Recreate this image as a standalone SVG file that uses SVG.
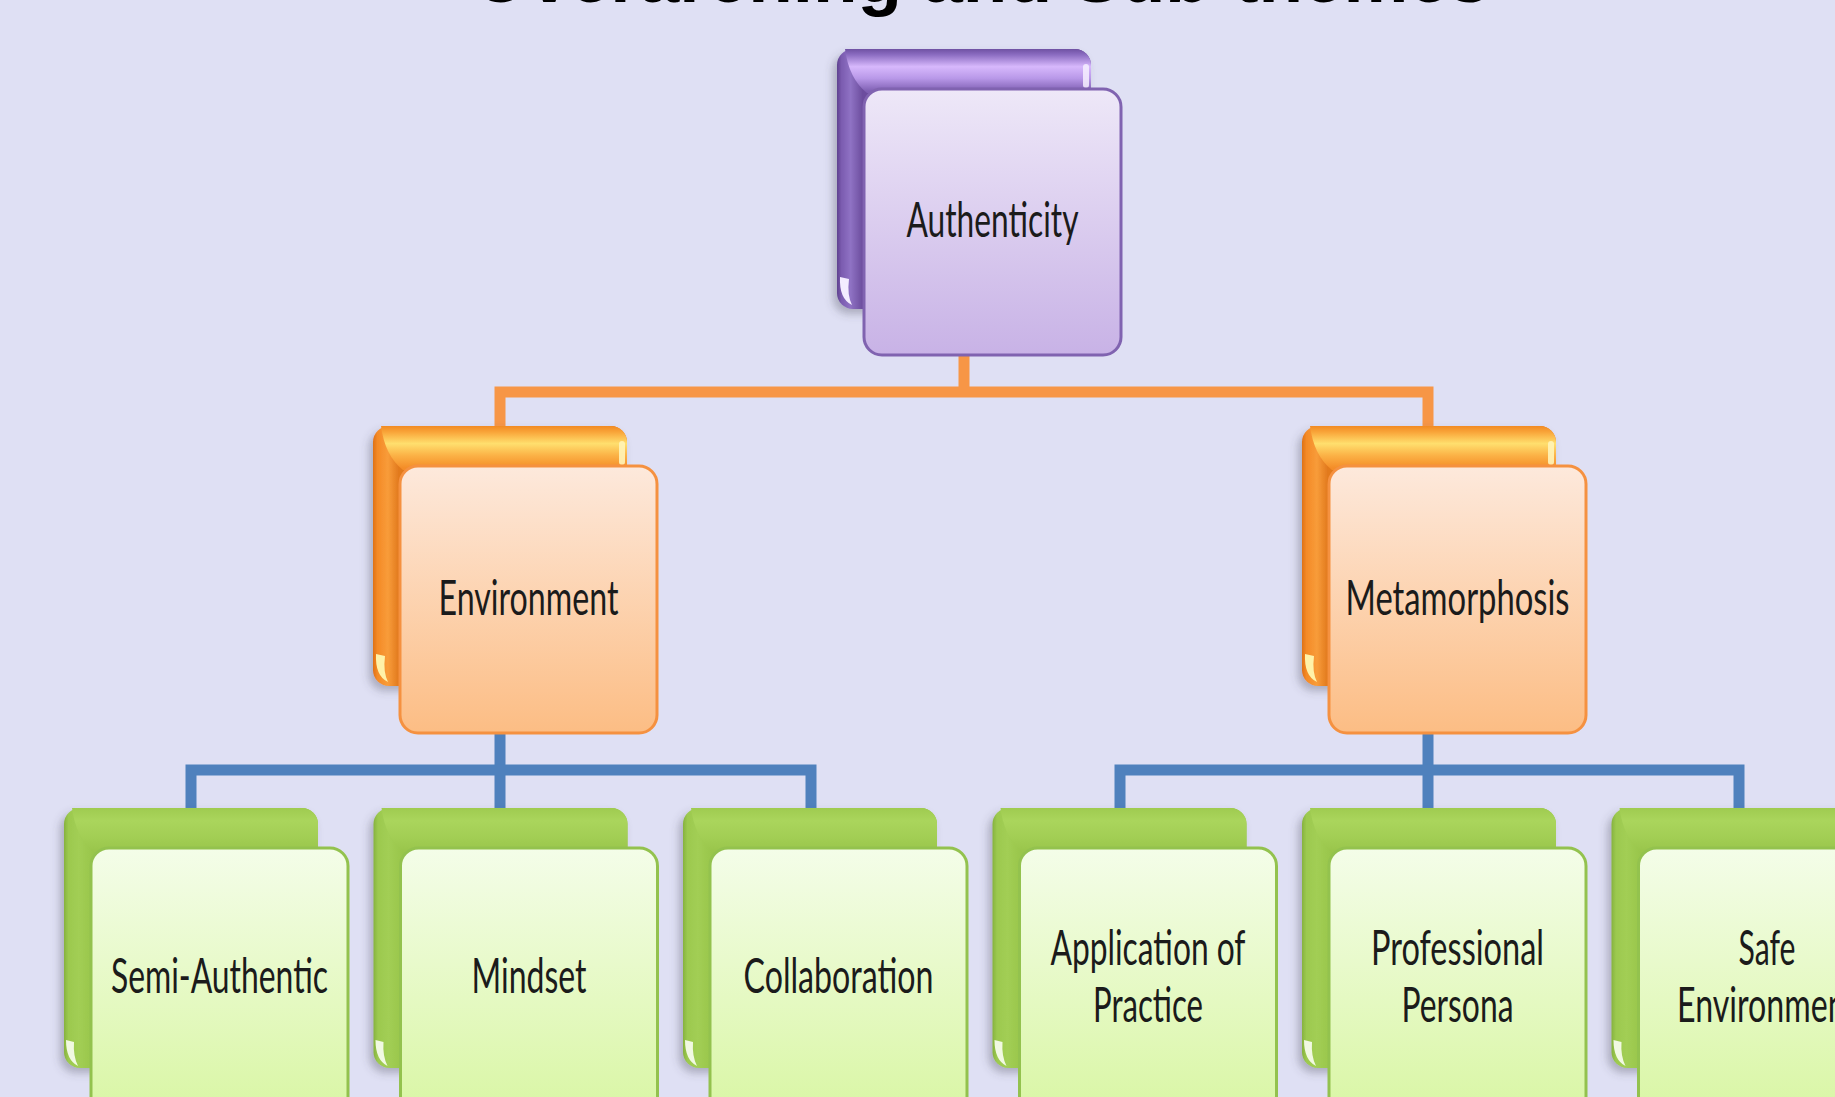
<svg xmlns="http://www.w3.org/2000/svg" xmlns:xlink="http://www.w3.org/1999/xlink" width="1835" height="1097" viewBox="0 0 1835 1097">
  <style>
    .title { font-family: "Liberation Sans", Arial, sans-serif; font-weight: bold; font-size: 73px; fill: #000; text-anchor: middle; }
    .label { font-family: "Lato", "Liberation Sans", sans-serif; font-size: 48px; fill: #1b1b1b; text-anchor: middle; }
    .front { stroke-width: 3; }
    .fp { fill: url(#pFront); stroke: #8063b0; }
    .fo { fill: url(#oFront); stroke: #f59140; }
    .fg { fill: url(#gFront); stroke: #93c24e; }
    .conn { fill: none; stroke-width: 11; stroke-linejoin: miter; stroke-linecap: butt; }
    .c-orange { stroke: #f79646; }
    .c-blue { stroke: #4f81bd; }
  </style>
  <defs>
    <filter id="shadow" x="-20%" y="-20%" width="140%" height="140%">
      <feDropShadow dx="-4" dy="5" stdDeviation="4" flood-color="#4a4a5a" flood-opacity="0.35"/>
    </filter>
    <!-- purple -->
    <linearGradient id="pSide" gradientUnits="userSpaceOnUse" x1="0" y1="0" x2="30" y2="0">
      <stop offset="0" stop-color="#5f4290"/>
      <stop offset="0.15" stop-color="#7b5cb0"/>
      <stop offset="0.45" stop-color="#8f72c4"/>
      <stop offset="0.85" stop-color="#6c4e9e"/>
      <stop offset="1" stop-color="#6c4e9e"/>
    </linearGradient>
    <linearGradient id="pBand" gradientUnits="userSpaceOnUse" x1="0" y1="0" x2="0" y2="42">
      <stop offset="0" stop-color="#6f51a3"/>
      <stop offset="0.14" stop-color="#8c6dc2"/>
      <stop offset="0.42" stop-color="#d7b8fc"/>
      <stop offset="0.7" stop-color="#b898e8"/>
      <stop offset="1" stop-color="#7f60b3"/>
    </linearGradient>
    <linearGradient id="pFront" gradientUnits="userSpaceOnUse" x1="0" y1="40" x2="0" y2="307">
      <stop offset="0" stop-color="#eee8f8"/>
      <stop offset="1" stop-color="#c8b2e6"/>
    </linearGradient>
    <!-- orange -->
    <linearGradient id="oSide" gradientUnits="userSpaceOnUse" x1="0" y1="0" x2="30" y2="0">
      <stop offset="0" stop-color="#de7116"/>
      <stop offset="0.15" stop-color="#f48a26"/>
      <stop offset="0.5" stop-color="#f89c3a"/>
      <stop offset="0.85" stop-color="#e27a1e"/>
      <stop offset="1" stop-color="#e27a1e"/>
    </linearGradient>
    <linearGradient id="oBand" gradientUnits="userSpaceOnUse" x1="0" y1="0" x2="0" y2="42">
      <stop offset="0" stop-color="#f28a22"/>
      <stop offset="0.15" stop-color="#f9a63a"/>
      <stop offset="0.42" stop-color="#ffdf6e"/>
      <stop offset="0.7" stop-color="#fbb246"/>
      <stop offset="1" stop-color="#f48d28"/>
    </linearGradient>
    <linearGradient id="oFront" gradientUnits="userSpaceOnUse" x1="0" y1="40" x2="0" y2="307">
      <stop offset="0" stop-color="#fde9dc"/>
      <stop offset="1" stop-color="#fcbd84"/>
    </linearGradient>
    <!-- green -->
    <linearGradient id="gSide" gradientUnits="userSpaceOnUse" x1="0" y1="0" x2="30" y2="0">
      <stop offset="0" stop-color="#86b23e"/>
      <stop offset="0.15" stop-color="#9cc94f"/>
      <stop offset="0.5" stop-color="#a2ce54"/>
      <stop offset="1" stop-color="#98c54b"/>
    </linearGradient>
    <linearGradient id="gBand" gradientUnits="userSpaceOnUse" x1="0" y1="0" x2="0" y2="42">
      <stop offset="0" stop-color="#9fcb50"/>
      <stop offset="0.3" stop-color="#aad55c"/>
      <stop offset="0.7" stop-color="#a2ce54"/>
      <stop offset="1" stop-color="#9ac64c"/>
    </linearGradient>
    <linearGradient id="gFront" gradientUnits="userSpaceOnUse" x1="0" y1="40" x2="0" y2="307">
      <stop offset="0" stop-color="#f4fde9"/>
      <stop offset="1" stop-color="#d9f6a4"/>
    </linearGradient>

    <!-- curled back sheets, local 254 x 260 -->
    <g id="back-purple">
      <rect x="0" y="0" width="254" height="260" rx="16" fill="url(#pSide)" filter="url(#shadow)"/>
      <path d="M8 0 H238 A16 16 0 0 1 254 16 V44 H30 Q12 30 8 0 Z" fill="url(#pBand)"/>
      <rect x="246" y="15" width="6" height="24" rx="3" fill="#f6f0ff" opacity="0.85"/>
      <path d="M3 228 Q2 250 15 256 Q10 246 12 230 Z" fill="#f3ecff"/>
    </g>
    <g id="back-orange">
      <rect x="0" y="0" width="254" height="260" rx="16" fill="url(#oSide)" filter="url(#shadow)"/>
      <path d="M8 0 H238 A16 16 0 0 1 254 16 V44 H30 Q12 30 8 0 Z" fill="url(#oBand)"/>
      <rect x="246" y="15" width="6" height="24" rx="3" fill="#fff4b8" opacity="0.9"/>
      <path d="M3 228 Q2 250 15 256 Q10 246 12 230 Z" fill="#fff2a8"/>
    </g>
    <g id="back-green">
      <rect x="0" y="0" width="254" height="260" rx="16" fill="url(#gSide)" filter="url(#shadow)"/>
      <path d="M8 0 H238 A16 16 0 0 1 254 16 V44 H30 Q12 30 8 0 Z" fill="url(#gBand)"/>
      <path d="M2 232 Q2 252 14 258 Q9 248 10 234 Z" fill="#f1f9e2"/>
    </g>
  </defs>

  <rect x="0" y="0" width="1835" height="1097" fill="#dfe0f4"/>

  <text class="title" x="981" y="2" textLength="1017" lengthAdjust="spacingAndGlyphs">Overarching and Sub-themes</text>

  <!-- connectors -->
  <g id="connectors">
    <path class="conn c-orange" d="M964 352 V397"/>
    <path class="conn c-orange" d="M500 430 V392 H1428 V430"/>
    <path class="conn c-blue" d="M500 730 V812"/>
    <path class="conn c-blue" d="M191 812 V770 H811 V812"/>
    <path class="conn c-blue" d="M1428 730 V812"/>
    <path class="conn c-blue" d="M1120 812 V770 H1739 V812"/>
  </g>

  <!-- top level -->
  <g id="node-authenticity" transform="translate(837,49)">
    <use xlink:href="#back-purple"/>
    <rect class="front fp" x="27" y="40" width="257" height="266" rx="18"/>
    <text class="label" x="155.5" y="188" textLength="172" lengthAdjust="spacingAndGlyphs">Authenticity</text>
  </g>

  <!-- second level -->
  <g id="node-environment" transform="translate(373,426)">
    <use xlink:href="#back-orange"/>
    <rect class="front fo" x="27" y="40" width="257" height="267" rx="18"/>
    <text class="label" x="155.5" y="189" textLength="180" lengthAdjust="spacingAndGlyphs">Environment</text>
  </g>
  <g id="node-metamorphosis" transform="translate(1302,426)">
    <use xlink:href="#back-orange"/>
    <rect class="front fo" x="27" y="40" width="257" height="267" rx="18"/>
    <text class="label" x="155.5" y="189" textLength="224" lengthAdjust="spacingAndGlyphs">Metamorphosis</text>
  </g>

  <!-- third level -->
  <g id="node-semi-authentic" transform="translate(64,808)">
    <use xlink:href="#back-green"/>
    <rect class="front fg" x="27" y="40" width="257" height="267" rx="18"/>
    <text class="label" x="155.5" y="185" textLength="217" lengthAdjust="spacingAndGlyphs">Semi-Authentic</text>
  </g>
  <g id="node-mindset" transform="translate(373.5,808)">
    <use xlink:href="#back-green"/>
    <rect class="front fg" x="27" y="40" width="257" height="267" rx="18"/>
    <text class="label" x="155.5" y="185" textLength="115" lengthAdjust="spacingAndGlyphs">Mindset</text>
  </g>
  <g id="node-collaboration" transform="translate(683,808)">
    <use xlink:href="#back-green"/>
    <rect class="front fg" x="27" y="40" width="257" height="267" rx="18"/>
    <text class="label" x="155.5" y="185" textLength="190" lengthAdjust="spacingAndGlyphs">Collaboration</text>
  </g>
  <g id="node-application" transform="translate(992.5,808)">
    <use xlink:href="#back-green"/>
    <rect class="front fg" x="27" y="40" width="257" height="267" rx="18"/>
    <text class="label" x="155.5" y="157" textLength="195" lengthAdjust="spacingAndGlyphs">Application of</text>
    <text class="label" x="155.5" y="214" textLength="110" lengthAdjust="spacingAndGlyphs">Practice</text>
  </g>
  <g id="node-professional" transform="translate(1302,808)">
    <use xlink:href="#back-green"/>
    <rect class="front fg" x="27" y="40" width="257" height="267" rx="18"/>
    <text class="label" x="155.5" y="157" textLength="173" lengthAdjust="spacingAndGlyphs">Professional</text>
    <text class="label" x="155.5" y="214" textLength="112" lengthAdjust="spacingAndGlyphs">Persona</text>
  </g>
  <g id="node-safe" transform="translate(1611.5,808)">
    <use xlink:href="#back-green"/>
    <rect class="front fg" x="27" y="40" width="257" height="267" rx="18"/>
    <text class="label" x="155.5" y="157" textLength="57" lengthAdjust="spacingAndGlyphs">Safe</text>
    <text class="label" x="155.5" y="214" textLength="180" lengthAdjust="spacingAndGlyphs">Environment</text>
  </g>
</svg>
